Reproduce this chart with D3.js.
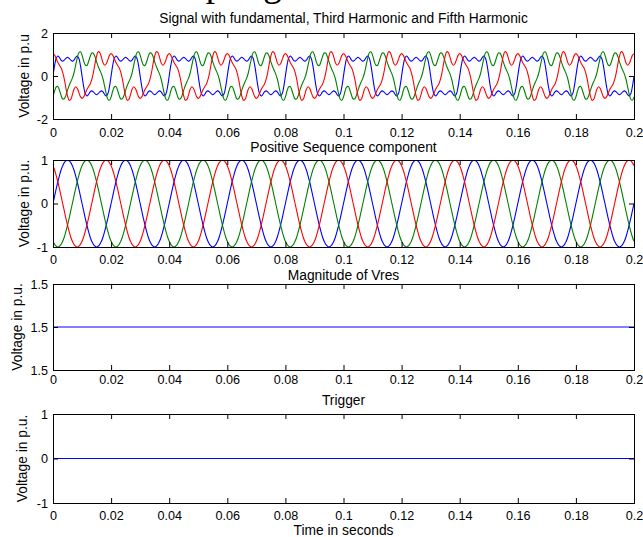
<!DOCTYPE html>
<html><head><meta charset="utf-8">
<script src="https://cdn.jsdelivr.net/npm/d3@7"></script>
<style>
body{margin:0;background:#fff}
svg{display:block;background:#fff}
text{font-family:"Liberation Sans",Arial,Helvetica,sans-serif;fill:#000}
.tick text{font-size:12.6px;font-family:"Liberation Sans",Arial,Helvetica,sans-serif}
.ttl{font-size:13.8px}
.lbl{font-size:13.8px}
.big{font-family:"Liberation Serif","Times New Roman",serif;font-size:37px}
</style>
</head><body>
<svg id="c" width="643" height="537"></svg>
<script>
// ---------- data ----------
const timeStart = 0, timeEnd = 0.2;
const cycleDuration = 0.02;            // one 50 Hz cycle
const cycleCount = 10;
const xTicks = [0, 0.02, 0.04, 0.06, 0.08, 0.1, 0.12, 0.14, 0.16, 0.18, 0.2];
const xTickLabels = ["0", "0.02", "0.04", "0.06", "0.08", "0.1", "0.12", "0.14", "0.16", "0.18", "0.2"];

// one cycle (36 samples) of each phase
const harmonicBlue = [0, 0.49, 0.83, 0.93, 0.86, 0.74, 0.69, 0.74, 0.82, 0.87, 0.82, 0.74, 0.69, 0.74, 0.86, 0.93, 0.83, 0.49,
  0, -0.49, -0.83, -0.93, -0.86, -0.74, -0.69, -0.74, -0.82, -0.87, -0.82, -0.74, -0.69, -0.74, -0.86, -0.93, -0.83, -0.49];
const harmonicGreen = [-0.97, -0.70, -0.51, -0.49, -0.66, -0.90, -1.07, -1.06, -0.90, -0.66, -0.44, -0.27, -0.10, 0.14, 0.48, 0.83, 1.08, 1.13,
  0.97, 0.70, 0.51, 0.49, 0.66, 0.90, 1.07, 1.06, 0.90, 0.66, 0.44, 0.27, 0.10, -0.14, -0.48, -0.83, -1.08, -1.13];
const harmonicRed = [1.04, 0.97, 0.80, 0.63, 0.50, 0.38, 0.17, -0.15, -0.56, -0.93, -1.13, -1.09, -0.87, -0.62, -0.50, -0.57, -0.76, -0.96,
  -1.04, -0.97, -0.80, -0.63, -0.50, -0.38, -0.17, 0.15, 0.56, 0.93, 1.13, 1.09, 0.87, 0.62, 0.50, 0.57, 0.76, 0.96];

const posSeqBlue = [0, 0.17, 0.34, 0.5, 0.64, 0.77, 0.87, 0.94, 0.98, 1, 0.98, 0.94, 0.87, 0.77, 0.64, 0.5, 0.34, 0.17,
  0, -0.17, -0.34, -0.5, -0.64, -0.77, -0.87, -0.94, -0.98, -1, -0.98, -0.94, -0.87, -0.77, -0.64, -0.5, -0.34, -0.17];
const posSeqGreen = [-0.87, -0.94, -0.98, -1, -0.98, -0.94, -0.87, -0.77, -0.64, -0.5, -0.34, -0.17, 0, 0.17, 0.34, 0.5, 0.64, 0.77,
  0.87, 0.94, 0.98, 1, 0.98, 0.94, 0.87, 0.77, 0.64, 0.5, 0.34, 0.17, 0, -0.17, -0.34, -0.5, -0.64, -0.77];
const posSeqRed = [0.87, 0.77, 0.64, 0.5, 0.34, 0.17, 0, -0.17, -0.34, -0.5, -0.64, -0.77, -0.87, -0.94, -0.98, -1, -0.98, -0.94,
  -0.87, -0.77, -0.64, -0.5, -0.34, -0.17, 0, 0.17, 0.34, 0.5, 0.64, 0.77, 0.87, 0.94, 0.98, 1, 0.98, 0.94];

const vresTimes = [0, 0.2];
const vresMagnitude = [1.5, 1.5];
const triggerTimes = [0, 0.2];
const triggerValues = [0, 0];

const titles = ["Signal with fundamental, Third Harmonic and Fifth Harmonic", "Positive Sequence component", "Magnitude of Vres", "Trigger"];
const yLabels = ["Voltage in p.u", "Voltage in p.u.", "Voltage in p.u.", "Voltage in p.u."];
const yTicks1 = [-2, 0, 2], yTicks2 = [-1, 0, 1], yTicks3 = [1.4999, 1.5, 1.5001], yTicks4 = [-1, 0, 1];
const yTickLabels1 = ["-2", "0", "2"], yTickLabels2 = ["-1", "0", "1"], yTickLabels3 = ["1.5", "1.5", "1.5"], yTickLabels4 = ["-1", "0", "1"];
const xAxisTitle = "Time in seconds";
const pageHeading = "Sampling";

// ---------- build ----------
function tile(cycle) {
  const pts = [];
  const n = cycle.length;
  for (let c = 0; c < cycleCount; c++)
    cycle.forEach((v, i) => pts.push({t: timeStart + (c + i / n) * cycleDuration, v}));
  pts.push({t: timeEnd, v: cycle[0]});
  return pts;
}
function pairs(ts, vs) { return ts.map((t, i) => ({t, v: vs[i]})); }

const BLUE = "#0000ff", GREEN = "#008000", RED = "#ff0000";
const panels = [
  {top: 33, bottom: 119, domain: [-2, 2], yt: yTicks1, ytl: yTickLabels1, xlY: 136.5, tY: 22.5, ylX: 28.5,
   series: [{p: tile(harmonicBlue), c: BLUE}, {p: tile(harmonicGreen), c: GREEN}, {p: tile(harmonicRed), c: RED}]},
  {top: 160, bottom: 247, domain: [-1, 1], yt: yTicks2, ytl: yTickLabels2, xlY: 264, tY: 152, ylX: 28.5,
   series: [{p: tile(posSeqBlue), c: BLUE}, {p: tile(posSeqGreen), c: GREEN}, {p: tile(posSeqRed), c: RED}]},
  {top: 284, bottom: 370, domain: [1.4999, 1.5001], yt: yTicks3, ytl: yTickLabels3, xlY: 384, tY: 280, ylX: 21.5,
   series: [{p: pairs(vresTimes, vresMagnitude), c: BLUE}]},
  {top: 414, bottom: 503, domain: [-1, 1], yt: yTicks4, ytl: yTickLabels4, xlY: 520, tY: 405, ylX: 26.5,
   series: [{p: pairs(triggerTimes, triggerValues), c: BLUE}]}
];

const svg = d3.select("#c");
const L = 53, R = 634;
const x = d3.scaleLinear().domain([timeStart, timeEnd]).range([L, R]);

svg.append("text").attr("class", "big").attr("x", 140).attr("y", -4).text(pageHeading);

panels.forEach((cfg, k) => {
  const g = svg.append("g");
  const y = d3.scaleLinear().domain(cfg.domain).range([cfg.bottom, cfg.top]);
  const cid = "clip" + k;
  svg.append("clipPath").attr("id", cid).append("rect")
    .attr("x", L).attr("y", cfg.top).attr("width", R - L).attr("height", cfg.bottom - cfg.top);
  const line = d3.line().x(d => x(d.t)).y(d => y(d.v)).curve(d3.curveCatmullRom.alpha(0.5));
  cfg.series.forEach(s => g.append("path").attr("clip-path", `url(#${cid})`)
    .attr("d", line(s.p)).attr("fill", "none").attr("stroke", s.c).attr("stroke-width", 1.1));

  // bottom axis (ticks inward)
  const ab = g.append("g").attr("transform", `translate(0,${cfg.bottom})`)
    .call(d3.axisBottom(x).tickValues(xTicks).tickFormat((d, i) => xTickLabels[i]).tickSizeInner(-5).tickSizeOuter(0));
  ab.select(".domain").remove();
  ab.selectAll("text").attr("y", cfg.xlY - cfg.bottom).attr("dy", null);
  // top axis
  const at = g.append("g").attr("transform", `translate(0,${cfg.top})`)
    .call(d3.axisTop(x).tickValues(xTicks).tickFormat("").tickSizeInner(-5).tickSizeOuter(0));
  at.select(".domain").remove();
  // left axis
  const al = g.append("g").attr("transform", `translate(${L},0)`)
    .call(d3.axisLeft(y).tickValues(cfg.yt).tickFormat((d, i) => cfg.ytl[i]).tickSizeInner(-5).tickSizeOuter(0).tickPadding(5));
  al.select(".domain").remove();
  // right axis
  const ar = g.append("g").attr("transform", `translate(${R},0)`)
    .call(d3.axisRight(y).tickValues(cfg.yt).tickFormat("").tickSizeInner(-5).tickSizeOuter(0));
  ar.select(".domain").remove();

  g.append("rect").attr("x", L).attr("y", cfg.top).attr("width", R - L).attr("height", cfg.bottom - cfg.top)
    .attr("fill", "none").attr("stroke", "#000").attr("stroke-width", 1).attr("shape-rendering", "crispEdges");

  svg.append("text").attr("class", "ttl").attr("x", (L + R) / 2).attr("y", cfg.tY)
    .attr("text-anchor", "middle").text(titles[k]);
  svg.append("text").attr("class", "lbl")
    .attr("transform", `translate(${cfg.ylX},${(cfg.top + cfg.bottom) / 2}) rotate(-90)`)
    .attr("text-anchor", "middle").text(yLabels[k]);
});

svg.append("text").attr("class", "lbl").attr("x", (L + R) / 2).attr("y", 535)
  .attr("text-anchor", "middle").text(xAxisTitle);
</script>
</body></html>
